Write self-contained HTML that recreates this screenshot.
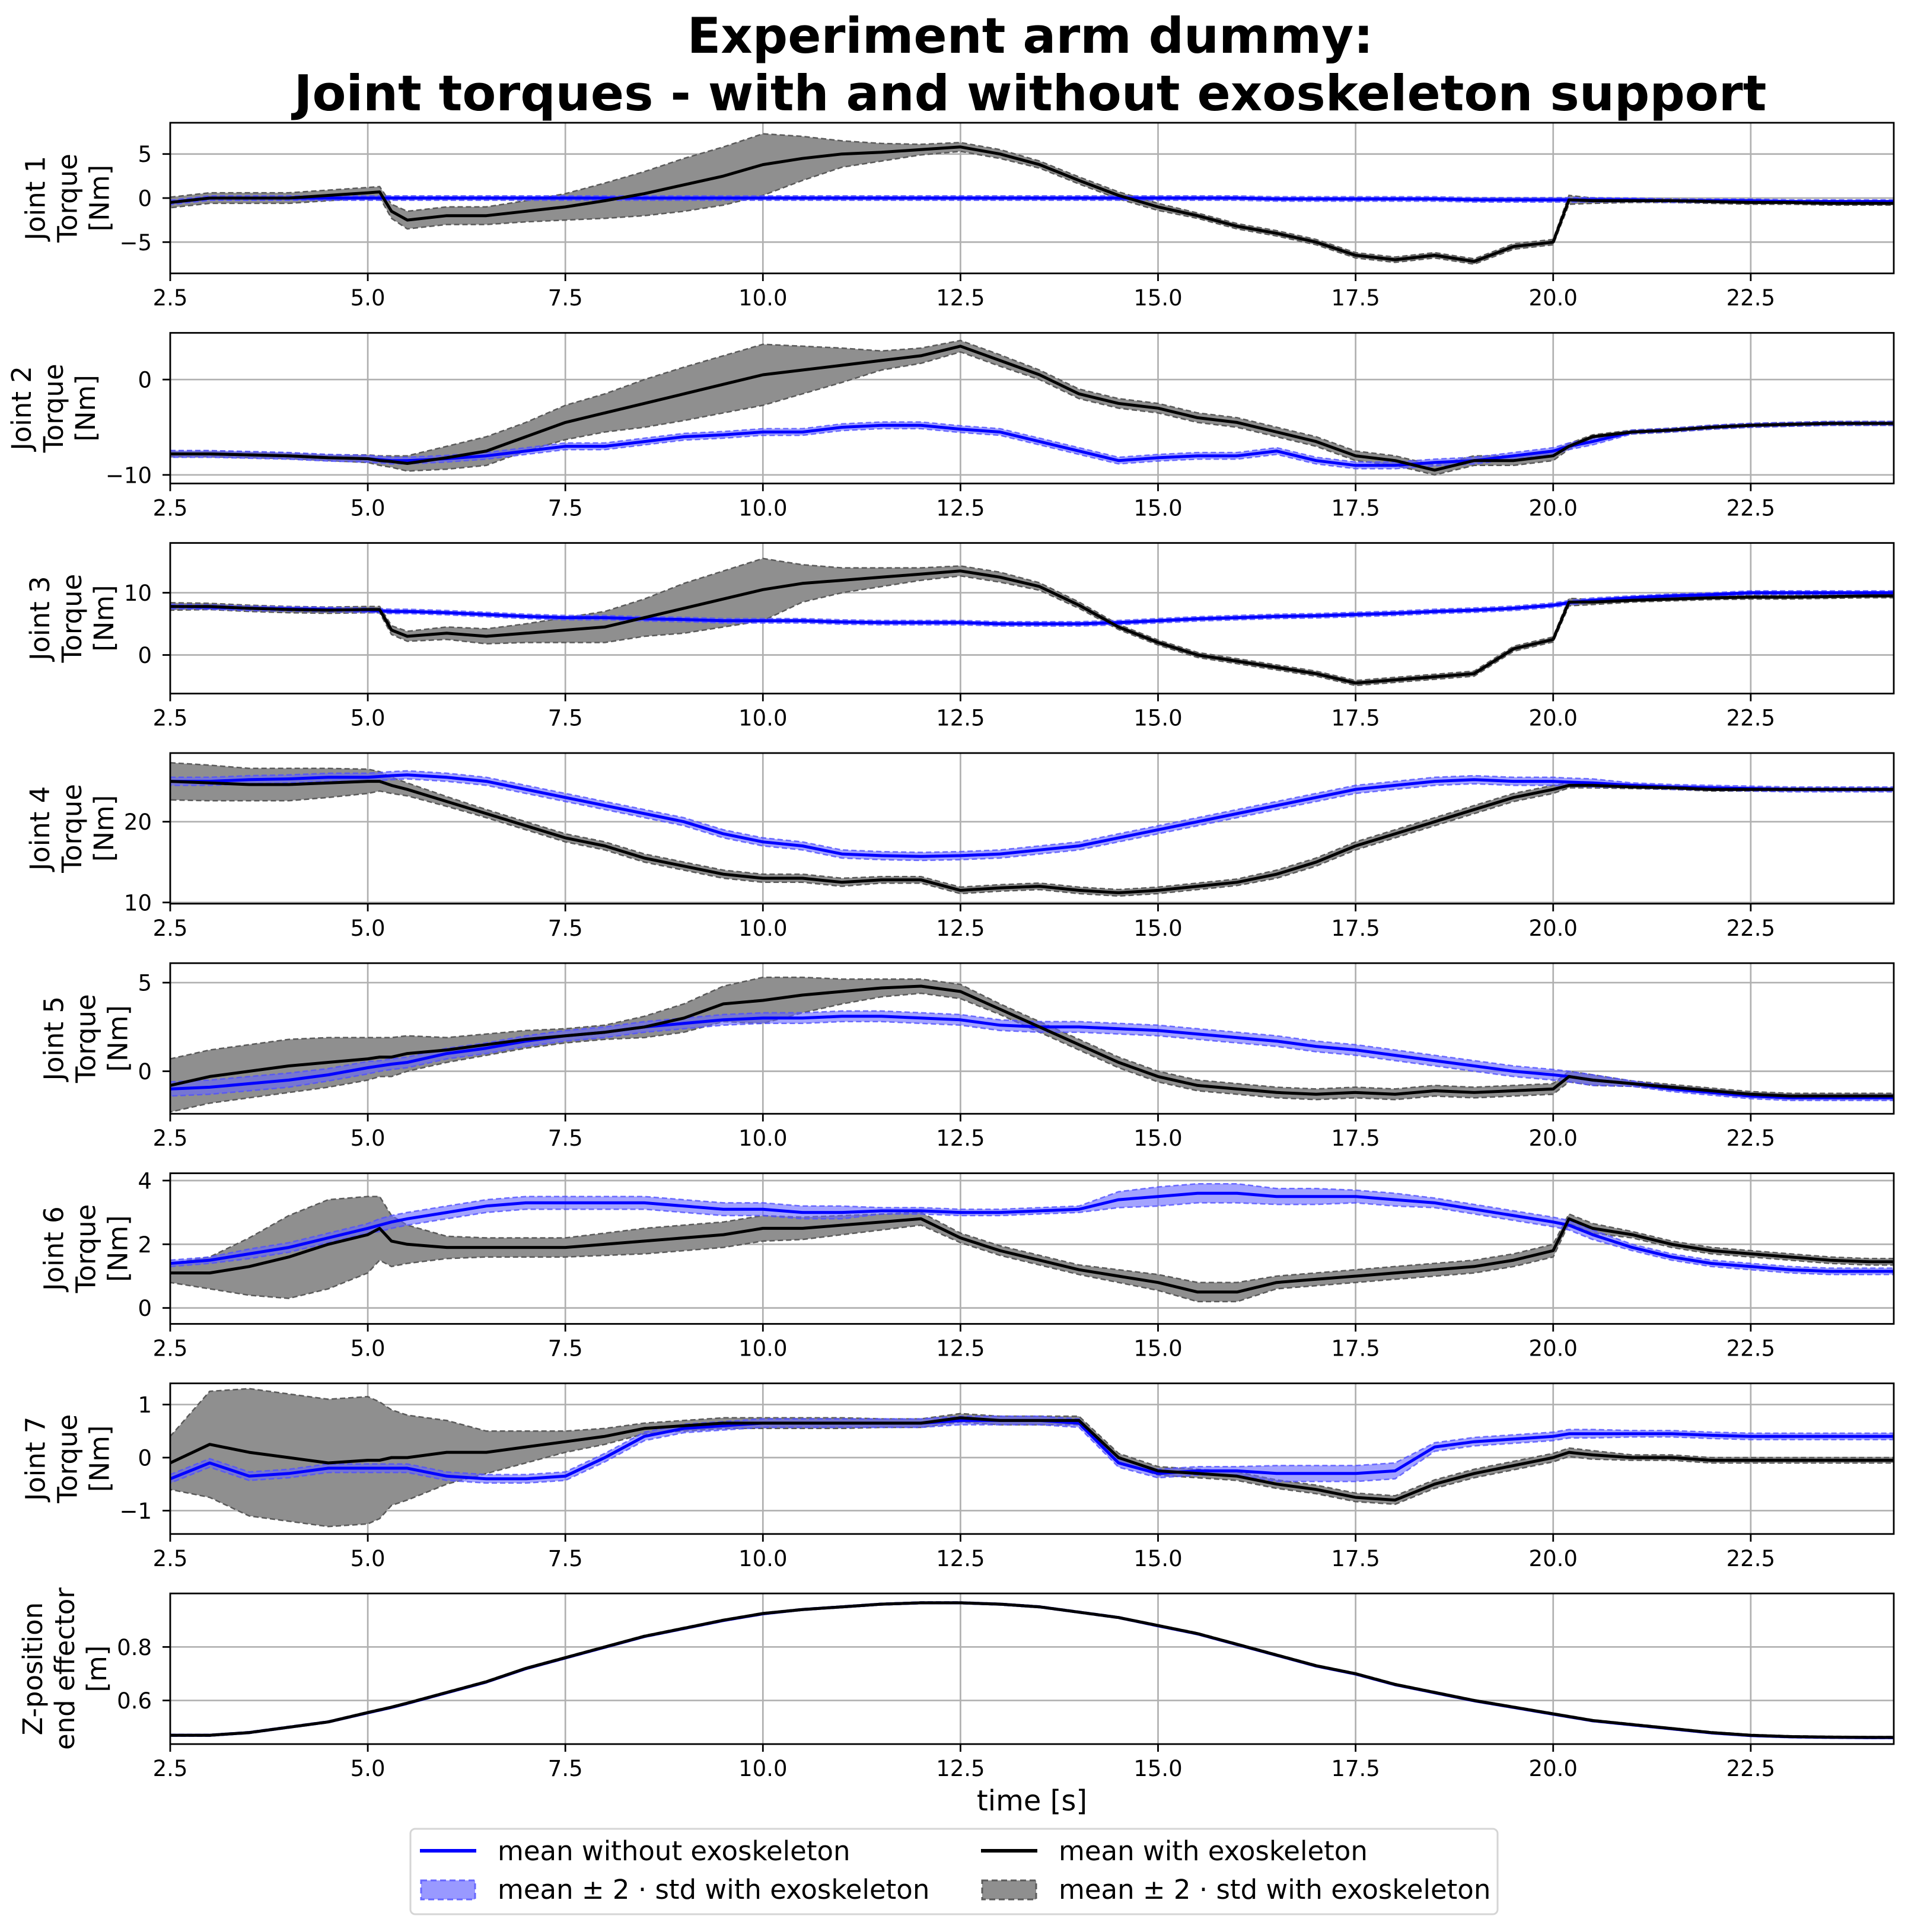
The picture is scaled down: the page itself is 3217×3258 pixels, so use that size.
<!DOCTYPE html>
<html><head><meta charset="utf-8"><style>
html,body{margin:0;padding:0;background:#fff}
svg{display:block;font-family:"DejaVu Sans","Liberation Sans",sans-serif}
</style></head><body>
<svg id="fig" xmlns="http://www.w3.org/2000/svg" width="3217" height="3258" viewBox="0 0 3217 3258">
<rect width="3217" height="3258" fill="#fff"/>
<text x="1737" y="89" text-anchor="middle" font-size="83" font-weight="bold">Experiment arm dummy:</text>
<text x="1737" y="186" text-anchor="middle" font-size="83" font-weight="bold">Joint torques - with and without exoskeleton support</text>
<g id="panels"></g>
<text x="1740" y="3053" text-anchor="middle" font-size="48">time [s]</text>
<g>
<rect x="692" y="3084" width="1833" height="144" rx="8" fill="#fff" stroke="#d5d5d5" stroke-width="3"/>
<line x1="708" y1="3121" x2="803" y2="3121" stroke="#0000ff" stroke-width="6"/>
<text x="839" y="3137" font-size="45">mean without exoskeleton</text>
<rect x="710" y="3171" width="91" height="32" fill="#9999ff" stroke="#6666ff" stroke-width="3" stroke-dasharray="10,6"/>
<text x="839" y="3202" font-size="45">mean ± 2 · std with exoskeleton</text>
<line x1="1654" y1="3121" x2="1749" y2="3121" stroke="#000" stroke-width="6"/>
<text x="1785" y="3137" font-size="45">mean with exoskeleton</text>
<rect x="1656" y="3171" width="91" height="32" fill="#8f8f8f" stroke="#5a5a5a" stroke-width="3" stroke-dasharray="10,6"/>
<text x="1785" y="3202" font-size="45">mean ± 2 · std with exoskeleton</text>
</g>
</svg>
<script>
const T=[2.5,3,3.5,4,4.5,5,5.15,5.3,5.5,6,6.5,7,7.5,8,8.5,9,9.5,10,10.5,11,11.5,12,12.5,13,13.5,14,14.5,15,15.5,16,16.5,17,17.5,18,18.5,19,19.5,20,20.2,20.5,21,21.5,22,22.5,23,23.5,24,24.3];
const xTicks=[2.5,5,7.5,10,12.5,15,17.5,20,22.5];
const xTickLabels=["2.5","5.0","7.5","10.0","12.5","15.0","17.5","20.0","22.5"];

const j1Black=[-0.5,0,0,0,0.3,0.6,0.7,-1.5,-2.5,-2, -2,-1.5,-1,-0.3,0.5,1.5,2.5,3.8,4.5,5, 5.2,5.5,5.8,5,3.8,2,0.3,-1,-2,-3.2, -4,-5,-6.5,-7,-6.5,-7.2,-5.5,-5,-0.2,-0.3, -0.3,-0.3,-0.4,-0.5,-0.5,-0.6,-0.6,-0.6];
const j1BlackStd=[0.6,0.6,0.6,0.6,0.6,0.6,0.6,0.8,1,1, 1,1.2,1.5,2,2.5,3,3.3,3.5,2.5,1.5, 1,0.6,0.5,0.5,0.4,0.4,0.4,0.4,0.3,0.3, 0.3,0.3,0.3,0.3,0.3,0.3,0.3,0.3,0.5,0.3, 0.2,0.2,0.2,0.2,0.2,0.2,0.2,0.2];
const j1Blue=[-0.5,0,0,0,0,0,0,0,0,0, 0,0,0,0,0,0,0,0,0,0, 0,0,0,0,0,0,0,0,0,0, -0.1,-0.1,-0.1,-0.1,-0.1,-0.2,-0.2,-0.2,-0.2,-0.2, -0.2,-0.3,-0.3,-0.3,-0.4,-0.4,-0.4,-0.4];
const j1BlueStd=[0.25,0.25,0.25,0.25,0.25,0.25,0.25,0.25,0.25,0.25, 0.25,0.25,0.25,0.25,0.25,0.25,0.25,0.25,0.25,0.25, 0.25,0.25,0.25,0.25,0.25,0.25,0.25,0.25,0.25,0.25, 0.25,0.25,0.25,0.25,0.25,0.25,0.25,0.25,0.25,0.25, 0.2,0.2,0.2,0.2,0.2,0.2,0.2,0.2];

const j2Black=[-7.8,-7.8,-7.9,-8,-8.2,-8.3,-8.5,-8.6,-8.8,-8.2, -7.5,-6,-4.5,-3.5,-2.5,-1.5,-0.5,0.5,1,1.5, 2,2.5,3.5,2,0.5,-1.5,-2.5,-3,-4,-4.5, -5.5,-6.5,-8,-8.5,-9.5,-8.5,-8.5,-8,-7,-6, -5.5,-5.3,-5,-4.8,-4.7,-4.6,-4.6,-4.6];
const j2BlackStd=[0.3,0.3,0.3,0.3,0.3,0.4,0.5,0.6,0.8,1.2, 1.5,1.5,1.8,2,2.5,2.8,3,3.2,2.5,1.8, 1,0.8,0.6,0.6,0.5,0.5,0.5,0.5,0.5,0.5, 0.5,0.5,0.5,0.5,0.5,0.5,0.5,0.5,0.3,0.2, 0.2,0.2,0.2,0.2,0.2,0.2,0.2,0.2];
const j2Blue=[-7.8,-7.8,-7.9,-8,-8.2,-8.3,-8.4,-8.5,-8.5,-8.3, -8,-7.5,-7,-7,-6.5,-6,-5.8,-5.5,-5.5,-5, -4.8,-4.8,-5.2,-5.5,-6.5,-7.5,-8.5,-8.2,-8,-8, -7.5,-8.5,-9,-9,-8.7,-8.5,-8,-7.5,-7,-6.5, -5.5,-5.3,-5,-4.8,-4.7,-4.6,-4.6,-4.6];
const j2BlueStd=[0.35,0.35,0.35,0.35,0.35,0.35,0.35,0.35,0.35,0.35, 0.35,0.35,0.35,0.35,0.35,0.35,0.35,0.35,0.35,0.35, 0.35,0.35,0.35,0.35,0.35,0.35,0.35,0.35,0.35,0.35, 0.35,0.35,0.35,0.35,0.35,0.35,0.35,0.35,0.35,0.35, 0.2,0.2,0.2,0.2,0.2,0.2,0.2,0.2];

const j3Black=[7.8,7.8,7.5,7.3,7.2,7.3,7.3,4,3,3.5, 3,3.5,4,4.5,6,7.5,9,10.5,11.5,12, 12.5,13,13.5,12.5,11,8,4.5,2,0,-1, -2,-3,-4.5,-4,-3.5,-3,1,2.5,8.5,8.5, 8.8,9,9.2,9.3,9.3,9.4,9.5,9.5];
const j3BlackStd=[0.6,0.5,0.5,0.5,0.5,0.5,0.5,0.7,0.8,1, 1.2,1.5,2,2.5,3,4,4.5,5,3,2, 1.5,1,0.8,0.8,0.6,0.5,0.4,0.4,0.4,0.4, 0.4,0.4,0.4,0.4,0.4,0.4,0.4,0.4,0.6,0.4, 0.3,0.3,0.3,0.3,0.3,0.3,0.3,0.3];
const j3Blue=[7.8,7.7,7.5,7.4,7.3,7.2,7.1,7,7,6.8, 6.5,6.2,6,6,5.8,5.7,5.5,5.5,5.5,5.3, 5.2,5.2,5.2,5,5,5,5.2,5.5,5.8,6, 6.2,6.3,6.5,6.7,7,7.2,7.5,8,8.4,8.8, 9.2,9.5,9.7,10,10,10,10,10];
const j3BlueStd=[0.35,0.35,0.35,0.35,0.35,0.35,0.35,0.35,0.35,0.35, 0.35,0.35,0.35,0.35,0.35,0.35,0.35,0.35,0.35,0.35, 0.35,0.35,0.35,0.35,0.35,0.35,0.35,0.35,0.35,0.35, 0.35,0.35,0.35,0.35,0.35,0.35,0.35,0.35,0.35,0.35, 0.3,0.3,0.3,0.3,0.3,0.3,0.3,0.3];

const j4Black=[25,24.8,24.6,24.6,24.8,25,25,24.5,24,22.5, 21,19.5,18,17,15.5,14.5,13.5,13,13,12.5, 12.8,12.8,11.5,11.8,12,11.5,11.2,11.5,12,12.5, 13.5,15,17,18.5,20,21.5,23,24,24.5,24.5, 24.3,24.2,24,24,24,24,24,24];
const j4BlackStd=[2.3,2.2,2,2,1.8,1.5,1.2,1,0.8,0.6, 0.5,0.5,0.5,0.5,0.5,0.5,0.5,0.5,0.5,0.5, 0.4,0.4,0.4,0.4,0.4,0.4,0.4,0.4,0.4,0.4, 0.5,0.5,0.5,0.5,0.5,0.5,0.5,0.5,0.3,0.3, 0.2,0.2,0.2,0.2,0.2,0.2,0.2,0.2];
const j4Blue=[25,25,25.2,25.3,25.5,25.5,25.6,25.7,25.8,25.5, 25,24,23,22,21,20,18.5,17.5,17,16, 15.8,15.7,15.8,16,16.5,17,18,19,20,21, 22,23,24,24.5,25,25.2,25,25,24.9,24.8, 24.5,24.3,24.2,24.1,24,24,24,24];
const j4BlueStd=[0.5,0.5,0.5,0.5,0.5,0.5,0.5,0.5,0.5,0.5, 0.5,0.5,0.5,0.5,0.5,0.5,0.5,0.5,0.5,0.5, 0.5,0.5,0.5,0.5,0.5,0.5,0.5,0.5,0.5,0.5, 0.5,0.5,0.5,0.5,0.5,0.5,0.5,0.5,0.5,0.5, 0.3,0.3,0.3,0.3,0.3,0.3,0.3,0.3];

const j5Black=[-0.8,-0.3,0,0.3,0.5,0.7,0.8,0.8,1,1.2, 1.5,1.8,2,2.2,2.5,3,3.8,4,4.3,4.5, 4.7,4.8,4.5,3.5,2.5,1.5,0.5,-0.3,-0.8,-1, -1.2,-1.3,-1.2,-1.3,-1.1,-1.2,-1.1,-1,-0.3,-0.5, -0.7,-0.9,-1.1,-1.3,-1.4,-1.4,-1.4,-1.4];
const j5BlackStd=[1.5,1.5,1.5,1.5,1.4,1.2,1.1,1.1,1,0.7, 0.6,0.5,0.4,0.4,0.6,0.8,1,1.3,1,0.7, 0.5,0.4,0.4,0.3,0.3,0.3,0.3,0.3,0.3,0.3, 0.3,0.3,0.3,0.3,0.3,0.3,0.3,0.3,0.3,0.3, 0.15,0.15,0.15,0.15,0.15,0.15,0.15,0.15];
const j5Blue=[-1,-0.9,-0.7,-0.5,-0.2,0.2,0.3,0.4,0.5,1, 1.3,1.7,2,2.2,2.5,2.7,2.9,3,3,3.1, 3.1,3,2.9,2.6,2.5,2.5,2.4,2.3,2.1,1.9, 1.7,1.4,1.2,0.9,0.6,0.3,0,-0.2,-0.3,-0.5, -0.7,-1,-1.2,-1.4,-1.5,-1.5,-1.5,-1.5];
const j5BlueStd=[0.4,0.4,0.4,0.4,0.35,0.35,0.3,0.3,0.3,0.3, 0.3,0.3,0.3,0.3,0.3,0.3,0.3,0.3,0.3,0.3, 0.3,0.3,0.3,0.3,0.3,0.3,0.3,0.3,0.3,0.3, 0.3,0.3,0.3,0.3,0.3,0.3,0.3,0.3,0.3,0.3, 0.15,0.15,0.15,0.15,0.15,0.15,0.15,0.15];

const j6Black=[1.1,1.1,1.3,1.6,2,2.3,2.5,2.1,2,1.9, 1.9,1.9,1.9,2,2.1,2.2,2.3,2.5,2.5,2.6, 2.7,2.8,2.2,1.8,1.5,1.2,1,0.8,0.5,0.5, 0.8,0.9,1,1.1,1.2,1.3,1.5,1.8,2.8,2.5, 2.3,2,1.8,1.7,1.6,1.5,1.45,1.45];
const j6BlackStd=[0.3,0.5,0.9,1.3,1.4,1.2,1,0.8,0.6,0.35, 0.3,0.3,0.3,0.35,0.4,0.4,0.4,0.4,0.35,0.3, 0.25,0.2,0.15,0.15,0.15,0.15,0.2,0.25,0.3,0.3, 0.2,0.2,0.2,0.2,0.2,0.2,0.2,0.2,0.15,0.15, 0.1,0.1,0.1,0.1,0.1,0.1,0.1,0.1];
const j6Blue=[1.4,1.5,1.7,1.9,2.2,2.5,2.6,2.7,2.8,3, 3.2,3.3,3.3,3.3,3.3,3.2,3.1,3.1,3,3, 3.05,3.05,3,3,3.05,3.1,3.4,3.5,3.6,3.6, 3.5,3.5,3.5,3.4,3.3,3.1,2.9,2.7,2.6,2.3, 1.9,1.6,1.4,1.3,1.2,1.15,1.15,1.15];
const j6BlueStd=[0.1,0.1,0.15,0.15,0.15,0.15,0.2,0.2,0.2,0.2, 0.2,0.2,0.2,0.2,0.2,0.2,0.2,0.2,0.2,0.2, 0.1,0.1,0.1,0.1,0.1,0.1,0.25,0.3,0.3,0.3, 0.25,0.25,0.2,0.2,0.15,0.15,0.15,0.15,0.15,0.15, 0.1,0.1,0.1,0.1,0.1,0.1,0.1,0.1];

const j7Black=[-0.1,0.25,0.1,0,-0.1,-0.05,-0.05,0,0,0.1, 0.1,0.2,0.3,0.4,0.55,0.6,0.65,0.65,0.65,0.65, 0.65,0.65,0.75,0.7,0.7,0.7,0,-0.25,-0.3,-0.35, -0.5,-0.6,-0.75,-0.8,-0.5,-0.3,-0.15,0,0.1,0.05, 0,0,-0.05,-0.05,-0.05,-0.05,-0.05,-0.05];
const j7BlackStd=[0.5,1,1.2,1.2,1.2,1.2,1.1,0.9,0.8,0.6, 0.4,0.3,0.2,0.15,0.1,0.1,0.1,0.1,0.1,0.1, 0.08,0.08,0.08,0.08,0.08,0.08,0.08,0.08,0.08,0.08, 0.08,0.08,0.08,0.08,0.08,0.08,0.08,0.08,0.08,0.08, 0.05,0.05,0.05,0.05,0.05,0.05,0.05,0.05];
const j7Blue=[-0.4,-0.1,-0.35,-0.3,-0.2,-0.2,-0.2,-0.2,-0.2,-0.35, -0.4,-0.4,-0.35,0,0.4,0.55,0.6,0.65,0.65,0.65, 0.65,0.65,0.7,0.7,0.7,0.65,-0.1,-0.3,-0.25,-0.25, -0.3,-0.3,-0.3,-0.25,0.2,0.3,0.35,0.4,0.45,0.45, 0.45,0.45,0.42,0.4,0.4,0.4,0.4,0.4];
const j7BlueStd=[0.08,0.08,0.08,0.08,0.08,0.08,0.08,0.08,0.08,0.08, 0.08,0.08,0.08,0.08,0.08,0.08,0.08,0.08,0.08,0.08, 0.08,0.08,0.08,0.08,0.08,0.08,0.08,0.08,0.08,0.08, 0.15,0.15,0.15,0.15,0.08,0.08,0.08,0.08,0.08,0.08, 0.06,0.06,0.06,0.06,0.06,0.06,0.06,0.06];

const zBlack=[0.47,0.47,0.48,0.5,0.52,0.555,0.565,0.575,0.59,0.63, 0.67,0.72,0.76,0.8,0.84,0.87,0.9,0.925,0.94,0.95, 0.96,0.965,0.965,0.96,0.95,0.93,0.91,0.88,0.85,0.81, 0.77,0.73,0.7,0.66,0.63,0.6,0.575,0.55,0.54,0.525, 0.51,0.495,0.48,0.47,0.465,0.463,0.462,0.462];
const zBlue=[0.47,0.47,0.48,0.5,0.52,0.554,0.564,0.574,0.589,0.629, 0.669,0.719,0.759,0.799,0.839,0.869,0.899,0.924,0.94,0.95, 0.96,0.965,0.965,0.96,0.95,0.93,0.91,0.879,0.849,0.809, 0.769,0.729,0.699,0.659,0.629,0.599,0.574,0.549,0.539,0.524, 0.509,0.494,0.479,0.469,0.464,0.462,0.461,0.461];
const zStd=[0.003,0.003,0.003,0.003,0.003,0.003,0.003,0.003,0.003,0.003, 0.003,0.003,0.003,0.003,0.003,0.003,0.003,0.003,0.003,0.003, 0.003,0.003,0.003,0.003,0.003,0.003,0.003,0.003,0.003,0.003, 0.003,0.003,0.003,0.003,0.003,0.003,0.003,0.003,0.003,0.003, 0.003,0.003,0.003,0.003,0.003,0.003,0.003,0.003];

const yLims=[[-8.55,8.55],[-10.9,4.9],[-6.2,18],[9.85,28.5],[-2.4,6.1],[-0.5,4.23],[-1.44,1.4],[0.437,1.0]];
const yTicks=[[-5,0,5],[-10,0],[0,10],[10,20],[0,5],[0,2,4],[-1,0,1],[0.6,0.8]];
const yTickLabels=[["−5","0","5"],["−10","0"],["0","10"],["10","20"],["0","5"],["0","2","4"],["−1","0","1"],["0.6","0.8"]];
const yLabels=[["Joint 1","Torque","[Nm]"],["Joint 2","Torque","[Nm]"],["Joint 3","Torque","[Nm]"],["Joint 4","Torque","[Nm]"],["Joint 5","Torque","[Nm]"],["Joint 6","Torque","[Nm]"],["Joint 7","Torque","[Nm]"],["Z-position","end effector","[m]"]];
const series=[
 [j1Blue,j1BlueStd,j1Black,j1BlackStd],[j2Blue,j2BlueStd,j2Black,j2BlackStd],
 [j3Blue,j3BlueStd,j3Black,j3BlackStd],[j4Blue,j4BlueStd,j4Black,j4BlackStd],
 [j5Blue,j5BlueStd,j5Black,j5BlackStd],[j6Blue,j6BlueStd,j6Black,j6BlackStd],
 [j7Blue,j7BlueStd,j7Black,j7BlackStd],[zBlue,zStd,zBlack,zStd]];

const NS="http://www.w3.org/2000/svg";
const L=287,R=3193,X0=2.5,X1=24.31,TOP0=207,STEP=354.3,H=254;
const root=document.getElementById('panels');
const defs=document.createElementNS(NS,'defs');
root.appendChild(defs);
function el(tag,attrs,parent){const e=document.createElementNS(NS,tag);for(const k in attrs)e.setAttribute(k,attrs[k]);parent.appendChild(e);return e;}
const xs=t=>L+(t-X0)/(X1-X0)*(R-L);
function tw(s,fs){let w=0;for(const c of s){w+=c==='−'?0.838:(c==='.'?0.318:0.636);}return w*fs;}

for(let p=0;p<8;p++){
  const top=TOP0+p*STEP,bot=top+H;
  const [y0,y1]=yLims[p];
  const ys=v=>bot-(v-y0)/(y1-y0)*H;
  const g=document.createElementNS(NS,'g');
  
  
  root.appendChild(g);
  const cp=el('clipPath',{id:'cp'+p},defs);
  el('rect',{x:L,y:top,width:R-L,height:H},cp);
  xTicks.forEach(t=>{
    const ln=el('line',{x1:xs(t),x2:xs(t),y1:top,y2:bot,stroke:'#b0b0b0','stroke-width':2.7},g);
    
    
  });
  yTicks[p].forEach(v=>{
    const ln=el('line',{x1:L,x2:R,y1:ys(v),y2:ys(v),stroke:'#b0b0b0','stroke-width':2.7},g);
    
    
  });
  const [bm,bs,km,ks]=series[p];
  const band=(m,s,fill,stroke,name)=>{
    let up=T.map((t,i)=>xs(t).toFixed(1)+','+ys(m[i]+s[i]).toFixed(1));
    let dn=T.map((t,i)=>xs(t).toFixed(1)+','+ys(m[i]-s[i]).toFixed(1)).reverse();
    const pg=el('polygon',{points:up.concat(dn).join(' '),fill:fill,stroke:stroke,'stroke-width':2.5,'stroke-dasharray':'9,5','clip-path':'url(#cp'+p+')'},g);
    
    
  };
  const line=(m,col,name)=>{
    const pl=el('polyline',{points:T.map((t,i)=>xs(t).toFixed(1)+','+ys(m[i]).toFixed(1)).join(' '),fill:'none',stroke:col,'stroke-width':5,'stroke-linejoin':'round','clip-path':'url(#cp'+p+')'},g);
    
    
  };
  band(km,ks,'#8f8f8f','#5a5a5a','std-band-with-exo');
  band(bm,bs,'rgba(102,102,255,0.6)','rgba(80,80,255,0.8)','std-band-without-exo');
  line(bm,'#0000ff','mean-line-without-exo');
  line(km,'#000000','mean-line-with-exo');
  const fr=el('rect',{x:L,y:top,width:R-L,height:H,fill:'none',stroke:'#000','stroke-width':2.8},g);
  
  
  xTicks.forEach((t,i)=>{
    el('line',{x1:xs(t),x2:xs(t),y1:bot,y2:bot+13,stroke:'#000','stroke-width':2.8},g);
    const tx=el('text',{x:xs(t),y:bot+54,'text-anchor':'middle','font-size':37},g);
    tx.textContent=xTickLabels[i];
    
    
  });
  let maxw=0;
  yTicks[p].forEach((v,i)=>{
    el('line',{x1:L-13,x2:L,y1:ys(v),y2:ys(v),stroke:'#000','stroke-width':2.8},g);
    const tx=el('text',{x:L-31,y:ys(v)+13.5,'text-anchor':'end','font-size':37},g);
    tx.textContent=yTickLabels[p][i];
    
    
    maxw=Math.max(maxw,tw(yTickLabels[p][i],37));
  });
  const lastX=L-31-maxw-34;
  const cy=(top+bot)/2;
  yLabels[p].forEach((s,i)=>{
    const x=lastX-(2-i)*54;
    const tx=el('text',{x:0,y:0,'text-anchor':'middle','font-size':45,transform:`translate(${x+16},${cy}) rotate(-90)`},g);
    tx.textContent=s;
    
    
  });
}
</script>
</body></html>
